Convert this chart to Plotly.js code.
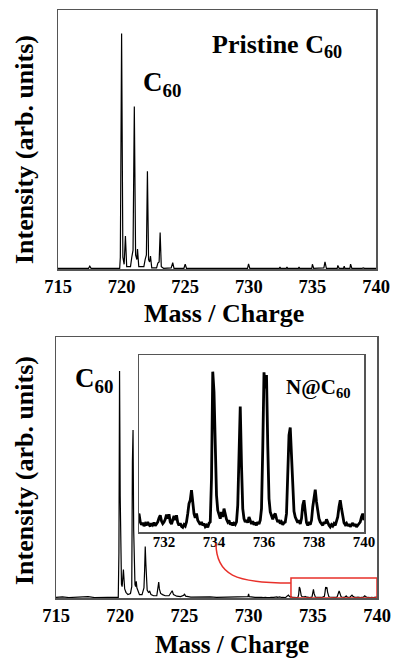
<!DOCTYPE html>
<html>
<head>
<meta charset="utf-8">
<script src="https://cdn.plot.ly/plotly-3.0.1.min.js"></script>
<style>html,body{margin:0;padding:0;background:#fff;}#chart{width:394px;height:660px;}</style>
</head>
<body>
<div id="chart"></div>
<script>
// ---- Pristine C60 spectrum (top panel) ----
const topMass = [715,717.4,717.5,717.6,719.85,719.9,720.0,720.1,720.2,720.3,720.4,720.7,720.8,720.9,721.0,721.1,721.2,721.25,721.35,721.75,721.85,721.95,722.03,722.12,722.2,722.27,722.37,722.75,722.85,722.95,723.03,723.12,723.3,723.9,724.02,724.12,724.9,725.0,725.1,726.5,727.3,727.4,727.6,728.2,728.3,728.6,729.1,729.2,729.9,729.98,730.08,732.4,732.45,732.5,732.95,733.0,733.05,733.9,733.95,734.0,734.95,735.0,735.1,735.9,735.99,736.1,736.95,737.0,737.1,737.45,737.5,737.55,737.95,738.0,738.1,738.9,739.0,739.1,740];
const topIntensity = [0.3,0.3,1.2,0.3,0.3,5,100,5,2,14,1,1,5,8,69,6,4,8.5,1,1,4,6,41.5,4,3,5.5,0.5,0.5,2.5,3,15.5,1,0.3,0.5,2.7,0.3,0.3,2.1,0.3,0.3,0.6,0.3,0.4,0.5,0.3,0.4,0.5,0.3,0.3,2.2,0.3,0.3,0.9,0.3,0.3,0.9,0.3,0.3,0.9,0.3,0.3,2.0,0.3,0.5,3.0,0.3,0.3,1.5,0.3,0.3,1.2,0.3,0.3,2.1,0.3,0.3,0.5,0.3,0.3];

// ---- N@C60 sample spectrum (bottom panel and inset) ----
const botMass = [715.0,715.5,716.0,716.5,717.0,717.5,718.0,718.5,719.0,719.5,719.85,719.9,719.95,720.0,720.05,720.1,720.15,720.2,720.25,720.3,720.35,720.45,720.6,720.8,720.9,720.95,721.0,721.05,721.1,721.15,721.2,721.25,721.3,721.4,721.5,721.7,721.8,721.85,721.9,721.95,722.0,722.05,722.1,722.2,722.3,722.4,722.6,722.85,722.95,723.0,723.05,723.15,723.3,723.5,723.8,723.95,724.05,724.15,724.4,724.7,724.95,725.0,725.1,725.5,726.0,726.5,727.0,727.5,728.0,728.5,729.0,729.5,729.95,730.0,730.05,730.5,730.9,
731.00,731.05,731.10,731.15,731.20,731.25,731.30,731.35,731.40,731.45,731.50,731.55,731.60,731.65,731.70,731.75,731.80,731.85,731.90,731.95,
732.00,732.05,732.10,732.15,732.20,732.25,732.30,732.35,732.40,732.45,732.50,732.55,732.60,732.65,732.70,732.75,732.80,732.85,732.90,732.95,
733.00,733.05,733.10,733.15,733.20,733.25,733.30,733.35,733.40,733.45,733.50,733.55,733.60,733.65,733.70,733.75,733.80,733.85,733.90,733.95,
734.00,734.05,734.10,734.15,734.20,734.25,734.30,734.35,734.40,734.45,734.50,734.55,734.60,734.65,734.70,734.75,734.80,734.85,734.90,734.95,
735.00,735.05,735.10,735.15,735.20,735.25,735.30,735.35,735.40,735.45,735.50,735.55,735.60,735.65,735.70,735.75,735.80,735.85,735.90,735.95,
736.00,736.05,736.10,736.15,736.20,736.25,736.30,736.35,736.40,736.45,736.50,736.55,736.60,736.65,736.70,736.75,736.80,736.85,736.90,736.95,
737.00,737.05,737.10,737.15,737.20,737.25,737.30,737.35,737.40,737.45,737.50,737.55,737.60,737.65,737.70,737.75,737.80,737.85,737.90,737.95,
738.00,738.05,738.10,738.15,738.20,738.25,738.30,738.35,738.40,738.45,738.50,738.55,738.60,738.65,738.70,738.75,738.80,738.85,738.90,738.95,
739.00,739.05,739.10,739.15,739.20,739.25,739.30,739.35,739.40,739.45,739.50,739.55,739.60,739.65,739.70,739.75,739.80,739.85,739.90,739.95,740.00];
const botIntensity = [0.3,0.5,0.2,0.4,0.3,0.6,0.2,0.4,0.3,0.3,0.3,20,100,45,15,6,5,8,12.5,8,4,2.5,1.5,2,5,60,74,30,10,6,5,7.3,4.5,2.5,1.5,1.5,3,4.4,12,22.7,15,6,3.5,2.5,3,1.5,1,1,4,7,4,2,1.5,1,1,2.5,3.2,1.5,0.8,0.6,1.2,1.8,0.8,0.4,0.5,0.3,0.5,0.3,0.4,0.3,0.5,0.4,0.6,1.8,0.6,0.3,0.4,
0.55,0.30,0.22,0.28,0.18,0.25,0.20,0.30,0.22,0.17,0.26,0.21,0.28,0.19,0.24,0.30,0.42,0.50,0.33,0.25,
0.30,0.38,0.52,0.40,0.53,0.30,0.24,0.35,0.48,0.36,0.50,0.28,0.20,0.26,0.17,0.14,0.22,0.18,0.30,0.55,
0.85,0.95,1.25,0.90,0.55,0.42,0.55,0.35,0.28,0.22,0.30,0.20,0.25,0.16,0.20,0.14,0.26,0.30,1.60,4.80,
4.20,2.10,1.10,0.65,0.55,0.40,0.60,0.45,0.70,0.50,0.38,0.30,0.35,0.22,0.28,0.20,0.26,0.22,0.30,0.80,
2.60,3.76,2.00,0.70,0.40,0.30,0.36,0.28,0.45,0.30,0.24,0.32,0.22,0.28,0.20,0.30,0.24,0.35,0.70,2.50,
4.78,4.30,4.70,2.60,1.00,0.60,0.45,0.38,0.50,0.55,0.40,0.30,0.36,0.25,0.30,0.22,0.28,0.30,0.55,1.60,
2.90,3.13,2.30,1.10,0.62,0.45,0.35,0.28,0.35,0.24,0.40,0.80,0.95,0.55,0.28,0.20,0.26,0.22,0.35,0.75,
1.10,1.27,0.90,0.55,0.40,0.30,0.26,0.20,0.30,0.25,0.38,0.28,0.20,0.15,0.22,0.18,0.25,0.20,0.30,0.45,
0.75,0.95,0.70,0.40,0.28,0.22,0.26,0.18,0.24,0.16,0.22,0.27,0.18,0.24,0.15,0.20,0.26,0.30,0.45,0.55,0.35];

const xTicks = [715,720,725,730,735,740];
const insetTicks = [732,734,736,738,740];
const xTitle = 'Mass / Charge';
const yTitle = 'Intensity (arb. units)';

const W = 394, H = 660;
const px = v => v / W;
const py = v => 1 - v / H;

const SERIF = '"Liberation Serif", "Times New Roman", serif';
const frame = {showline:true, mirror:true, linecolor:'#555', linewidth:1.5, ticks:'', showgrid:false, zeroline:false, fixedrange:true};
const tf = {family:SERIF, size:18.5, color:'#000'};
const boldLabels = arr => arr.map(v => '<b>' + v + '</b>');

const traces = [
  {x:topMass, y:topIntensity, xaxis:'x', yaxis:'y', mode:'lines', line:{color:'#000', width:1.2}, hoverinfo:'skip'},
  {x:botMass, y:botIntensity, xaxis:'x2', yaxis:'y2', mode:'lines', line:{color:'#000', width:1.2}, hoverinfo:'skip'},
  {x:botMass, y:botIntensity, xaxis:'x3', yaxis:'y3', mode:'lines', line:{color:'#000', width:2.8}, hoverinfo:'skip'}
];

const layout = {
  width:W, height:H, margin:{l:0,r:0,t:0,b:0}, showlegend:false,
  paper_bgcolor:'#fff', plot_bgcolor:'#fff',
  font:{family:SERIF, color:'#000'},
  xaxis: Object.assign({}, frame, {domain:[px(58), px(376)], range:[715,740], anchor:'y', tickmode:'array', tickvals:xTicks, ticktext:boldLabels(xTicks), tickfont:tf}),
  yaxis: Object.assign({}, frame, {domain:[py(269), py(10)], range:[0,110], anchor:'x', showticklabels:false}),
  xaxis2: Object.assign({}, frame, {domain:[px(56), px(377)], range:[715,740], anchor:'y2', tickmode:'array', tickvals:xTicks, ticktext:boldLabels(xTicks), tickfont:tf}),
  yaxis2: Object.assign({}, frame, {domain:[py(598), py(337)], range:[0,115], anchor:'x2', showticklabels:false}),
  xaxis3: Object.assign({}, frame, {domain:[px(139), px(364)], range:[731,740], anchor:'y3', tickmode:'array', tickvals:insetTicks, ticktext:boldLabels(insetTicks), ticklabelstandoff:-5, tickfont:Object.assign({}, tf, {size:15})}),
  yaxis3: Object.assign({}, frame, {domain:[py(532), py(355)], range:[0,5.3], anchor:'x3', showticklabels:false}),
  shapes: [
    {type:'rect', xref:'x2', yref:'y2', x0:733.3, x1:740, y0:0, y1:8.8, line:{color:'#e8302a', width:1.5}, layer:'above'},
    {type:'path', xref:'x2', yref:'y2', path:'M 727.46,24.2 C 727.46,10.1 728.94,6.6 733.3,6.6', line:{color:'#e8302a', width:1.5}, layer:'above'}
  ],
  annotations: [
    {text:'<b>'+xTitle+'</b>', xref:'paper', yref:'paper', x:px(224), y:py(313), showarrow:false, font:{size:26}, xanchor:'center', yanchor:'middle'},
    {text:'<b>'+xTitle+'</b>', xref:'paper', yref:'paper', x:px(232), y:py(644), showarrow:false, font:{size:25}, xanchor:'center', yanchor:'middle'},
    {text:'<b>'+yTitle+'</b>', xref:'paper', yref:'paper', x:px(24), y:py(150), showarrow:false, font:{size:26}, textangle:-90, xanchor:'center', yanchor:'middle'},
    {text:'<b>'+yTitle+'</b>', xref:'paper', yref:'paper', x:px(24), y:py(471), showarrow:false, font:{size:26}, textangle:-90, xanchor:'center', yanchor:'middle'},
    {text:'<b>Pristine C<sub>60</sub></b>', xref:'paper', yref:'paper', x:px(210), y:py(46), showarrow:false, font:{size:26}, xanchor:'left', yanchor:'middle'},
    {text:'<b>C<sub>60</sub></b>', xref:'paper', yref:'paper', x:px(141), y:py(84), showarrow:false, font:{size:27}, xanchor:'left', yanchor:'middle'},
    {text:'<b>C<sub>60</sub></b>', xref:'paper', yref:'paper', x:px(73), y:py(380), showarrow:false, font:{size:27}, xanchor:'left', yanchor:'middle'},
    {text:'<b>N@C<sub>60</sub></b>', xref:'paper', yref:'paper', x:px(284), y:py(388), showarrow:false, font:{size:21}, xanchor:'left', yanchor:'middle'}
  ]
};

Plotly.newPlot('chart', traces, layout, {staticPlot:true, displayModeBar:false});
</script>
</body>
</html>
